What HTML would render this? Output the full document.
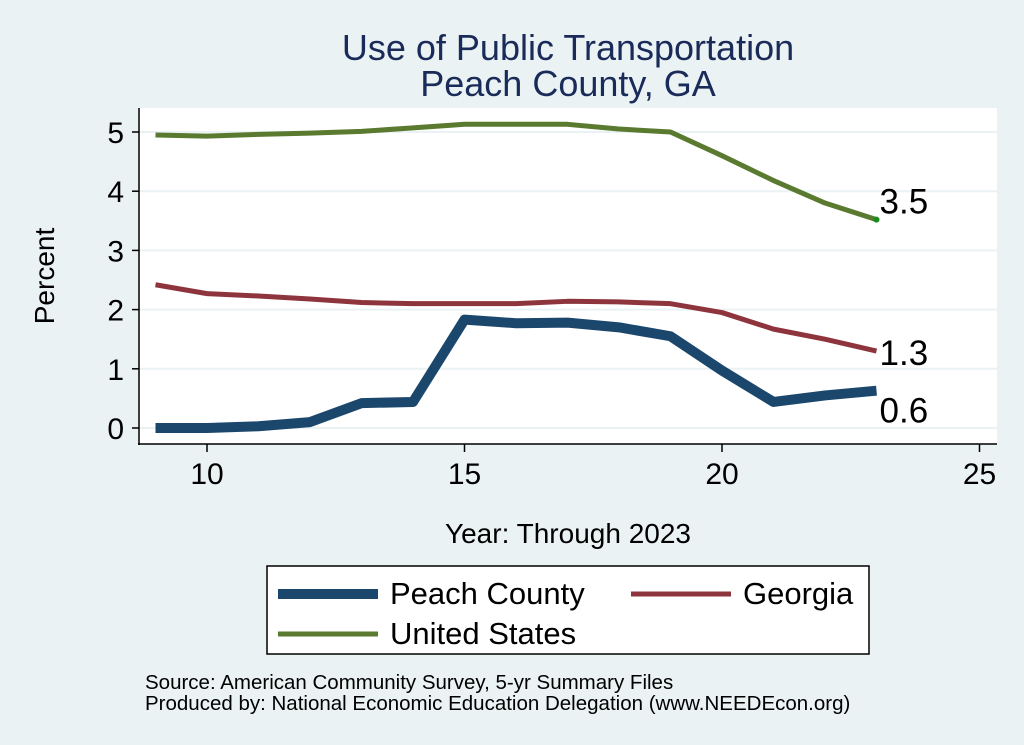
<!DOCTYPE html>
<html><head><meta charset="utf-8"><style>
body{margin:0;background:#eaf2f3;}
svg{display:block;font-family:"Liberation Sans",Arial,sans-serif;}
</style></head><body>
<svg id="chart" width="1024" height="745" viewBox="0 0 1024 745">
<rect x="0" y="0" width="1024" height="745" fill="#eaf2f3"/>
<rect x="139" y="108" width="858" height="336" fill="#ffffff"/>
<text x="568" y="60" font-size="36" fill="#1a2b5a" text-anchor="middle">Use of Public Transportation</text>
<text x="568" y="96" font-size="36" fill="#1a2b5a" text-anchor="middle">Peach County, GA</text>
<g id="grid"></g>
<g id="series"></g>
<g id="axes"></g>
<text transform="translate(54,276) rotate(-90)" font-size="28" text-anchor="middle">Percent</text>
<text x="568" y="543" font-size="28" text-anchor="middle">Year: Through 2023</text>
<g>
<rect x="267" y="566" width="602" height="88" fill="#ffffff" stroke="#000" stroke-width="1.5"/>
<line x1="278" y1="594" x2="378" y2="594" stroke="#1b476d" stroke-width="10"/>
<text x="390" y="604" font-size="31">Peach County</text>
<line x1="631" y1="594" x2="731" y2="594" stroke="#8e343d" stroke-width="5"/>
<text x="743" y="604" font-size="31">Georgia</text>
<line x1="278" y1="634" x2="378" y2="634" stroke="#5a7a30" stroke-width="5"/>
<text x="390" y="644" font-size="31">United States</text>
</g>
<text x="145" y="689" font-size="20.5">Source: American Community Survey, 5-yr Summary Files</text>
<text x="145" y="710" font-size="20.5">Produced by: National Economic Education Delegation (www.NEEDEcon.org)</text>
</svg>
<script>
const years=[9,10,11,12,13,14,15,16,17,18,19,20,21,22,23];
const peach=[0,0,0.03,0.1,0.42,0.44,1.83,1.77,1.78,1.7,1.55,0.97,0.44,0.55,0.63];
const georgia=[2.42,2.27,2.23,2.18,2.12,2.1,2.1,2.1,2.14,2.13,2.1,1.95,1.67,1.5,1.3];
const us=[4.95,4.93,4.96,4.98,5.01,5.07,5.13,5.13,5.13,5.05,5.0,4.6,4.18,3.8,3.52];
const xTicks=[10,15,20,25];
const yTicks=[0,1,2,3,4,5];
const endLabels=["0.6","1.3","3.5"];
const NS="http://www.w3.org/2000/svg";
function sx(v){return 207+(v-10)*51.5;}
function sy(v){return 428-v*59.2;}
function mk(tag,attrs,parent){const e=document.createElementNS(NS,tag);for(const k in attrs)e.setAttribute(k,attrs[k]);parent.appendChild(e);return e;}
const grid=document.getElementById('grid'),axes=document.getElementById('axes'),ser=document.getElementById('series');
yTicks.forEach(t=>{
 const g=mk('line',{x1:139,x2:997,y1:sy(t),y2:sy(t),stroke:'#eaf2f3','stroke-width':2},grid);
 
 
 const tk=mk('line',{x1:132,x2:139,y1:sy(t),y2:sy(t),stroke:'#000','stroke-width':1.5},axes);
 
 
 const tx=mk('text',{x:124,y:sy(t)+11,'font-size':30,'text-anchor':'end'},axes);
 tx.textContent=t;
 
 
});
xTicks.forEach(t=>{
 const tk=mk('line',{x1:sx(t),x2:sx(t),y1:444,y2:452,stroke:'#000','stroke-width':1.5},axes);
 
 
 const tx=mk('text',{x:sx(t),y:484,'font-size':30,'text-anchor':'middle'},axes);
 tx.textContent=t;
 
 
});
const ya=mk('line',{x1:139,x2:139,y1:108,y2:445,stroke:'#000','stroke-width':1.5},axes);


const xa=mk('line',{x1:138,x2:997,y1:444,y2:444,stroke:'#000','stroke-width':1.5},axes);


function line(vals,color,w,name){
 const p=mk('polyline',{points:vals.map((v,i)=>sx(years[i])+','+sy(v)).join(' '),fill:'none',stroke:color,'stroke-width':w,'stroke-linejoin':'round'},ser);
 
 
}
line(us,'#5a7a30',5,'line-united-states');
line(georgia,'#8e343d',5,'line-georgia');
line(peach,'#1b476d',10,'line-peach-county');
const last=years.length-1;
const d=mk('circle',{cx:sx(years[last]),cy:sy(us[last]),r:3,fill:'#1a8a1a'},ser);


[[peach,endLabels[0],32,'label-peach'],[georgia,endLabels[1],14,'label-georgia'],[us,endLabels[2],-6,'label-us']].forEach(a=>{
 const t=mk('text',{x:sx(years[last])+3,y:sy(a[0][last])+a[2],'font-size':35},ser);
 t.textContent=a[1];
 
 
});
</script>
</body></html>
